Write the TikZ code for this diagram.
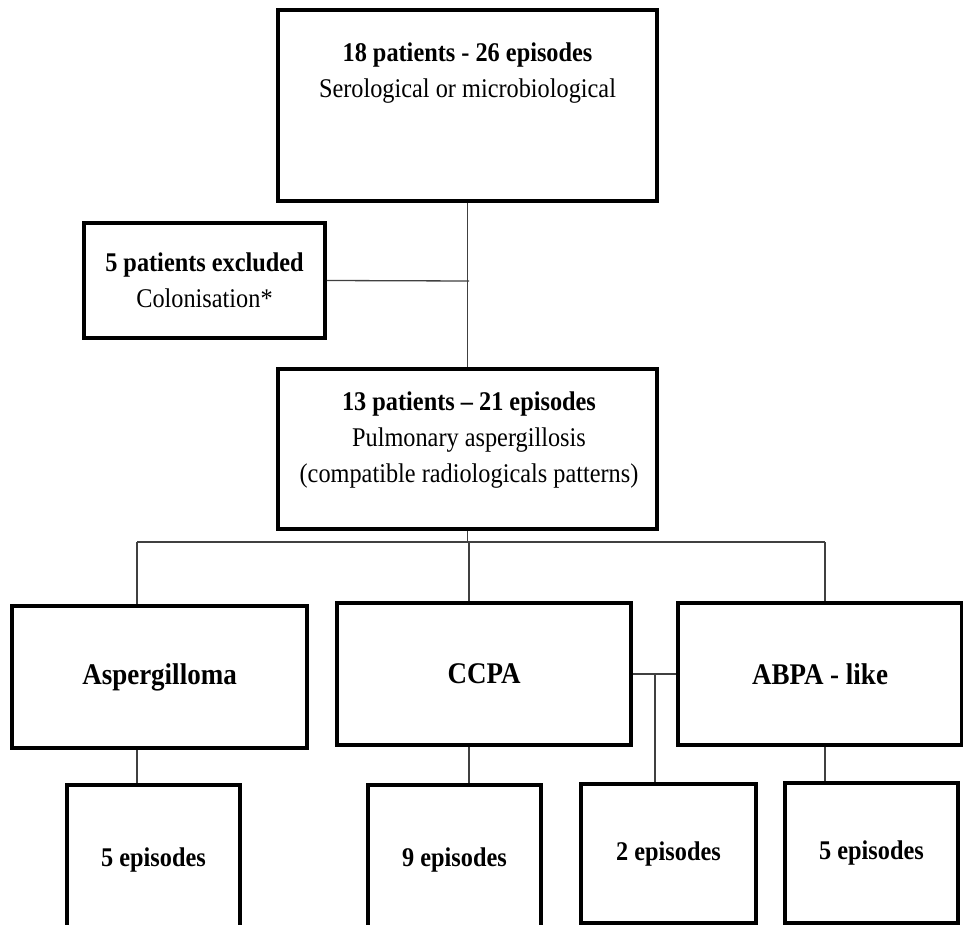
\documentclass[tikz,border=0pt]{standalone}
\usepackage{fontspec}
\setmainfont{Liberation Serif}[FakeStretch=0.9]

\begin{document}
\begin{tikzpicture}[x=1pt, y=-1pt,
    box/.style={draw=black, line width=3.5pt, fill=white, inner sep=0pt,
      align=center, font=\fontsize{27}{36}\selectfont},
    txt/.style={inner sep=0pt, align=center, font=\fontsize{27}{36}\selectfont},
    group/.style={font=\fontsize{30}{36}\selectfont\bfseries},
    link/.style={draw=black!75, line width=1.3pt}]
  % Frame
  \clip (0,0) rectangle (963,925);
  \fill[white] (0,0) rectangle (963,925);

  % Top and exclusion
  \node[box, minimum width=379pt, minimum height=191pt] (top) at (467.5,105.5) {};
  \node[txt] (topText) at (467.5,73.5)
    {\textbf{18 patients - 26 episodes}\\Serological  or microbiological};
  \node[box, minimum width=241pt, minimum height=115pt] (excl) at (204.5,280.5)
    {\textbf{5 patients  excluded}\\Colonisation*};
  \node[box, minimum width=379pt, minimum height=160pt] (mid) at (467.5,449) {};
  \node[txt] (midText) at (469,440)
    {\textbf{13 patients -- 21 episodes}\\Pulmonary  aspergillosis\\(compatible radiologicals patterns)};

  % Groups
  \node[box, group, minimum width=295pt, minimum height=142pt] (asp) at (159.5,677) {Aspergilloma};
  \node[box, group, minimum width=294pt, minimum height=142pt] (ccpa) at (484,674) {CCPA};
  \node[box, group, minimum width=284pt, minimum height=142pt] (abpa) at (820,674) {ABPA - like};

  % Episodes
  \node[box, minimum width=173pt, minimum height=150pt] (epA) at (153.5,860) {\textbf{5 episodes}};
  \node[box, minimum width=173pt, minimum height=150pt] (epB) at (454.5,860) {\textbf{9 episodes}};
  \node[box, minimum width=175pt, minimum height=139pt] (epC) at (668.5,853.5) {\textbf{2 episodes}};
  \node[box, minimum width=173pt, minimum height=140pt] (epD) at (871.5,853) {\textbf{5 episodes}};

  % Connectors
  \coordinate (trunk) at (469,281);
  \coordinate (busL) at (137,542);
  \coordinate (busR) at (825,542);
  \coordinate (fork) at (655,674);
  \draw[link] (top.south) -- (mid.north);
  \draw[link] (excl.east) -- (trunk);
  \draw[link] (busL) -- (busR);
  \draw[link] (mid.south) -- (mid.south |- busL);
  \draw[link] (busL) -- (busL |- asp.north);
  \draw[link] (trunk |- busL) -- (trunk |- ccpa.north);
  \draw[link] (busR) -- (busR |- abpa.north);
  \draw[link] (busL |- asp.south) -- (busL |- epA.north);
  \draw[link] (trunk |- ccpa.south) -- (trunk |- epB.north);
  \draw[link] (busR |- abpa.south) -- (busR |- epD.north);
  \draw[link] (ccpa.east) -- (abpa.west);
  \draw[link] (fork) -- (fork |- epC.north);
\end{tikzpicture}
\end{document}
